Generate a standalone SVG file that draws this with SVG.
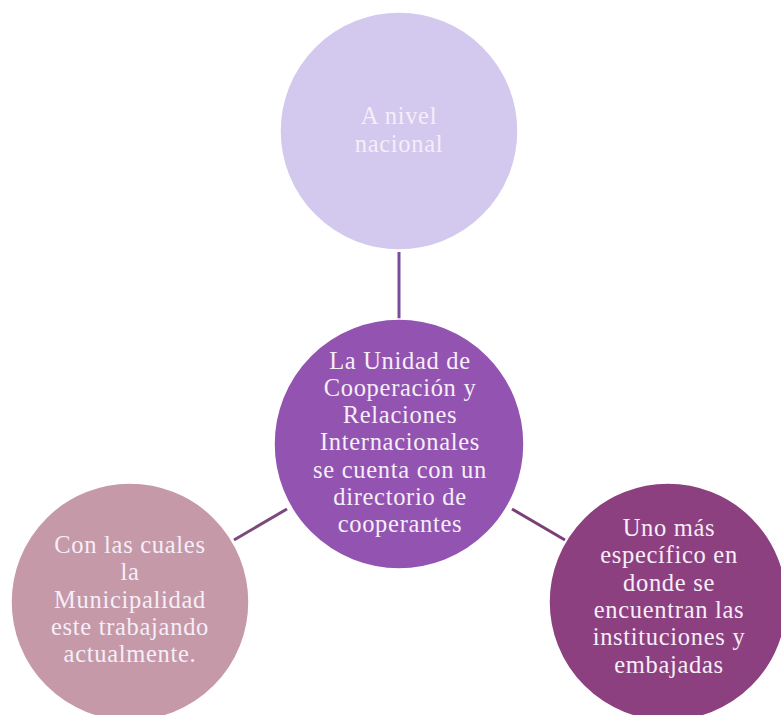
<svg xmlns="http://www.w3.org/2000/svg" width="781" height="715" viewBox="0 0 781 715">
<style>
  .node { stroke: #ffffff; stroke-width: 1.5; }
  .lbl { font-family: "Liberation Serif", "Times New Roman", serif; font-size: 24.5px; letter-spacing: 0.7px; fill: #F6EEF8; text-anchor: middle; }
  .conn { stroke-width: 3; fill: none; }
</style>
<rect width="781" height="715" fill="#ffffff"/>
<g id="connectors">
  <line class="conn" x1="399" y1="252" x2="399" y2="319" stroke="#7A4C9E"/>
  <line class="conn" x1="234" y1="540" x2="287" y2="509" stroke="#7B4A7C"/>
  <line class="conn" x1="512" y1="509" x2="565" y2="540" stroke="#7A3F76"/>
</g>
<g id="node-top">
  <circle class="node" cx="399" cy="131" r="119" fill="#D3C8EE"/>
  <text class="lbl" y="124"><tspan x="399">A nivel</tspan><tspan x="399" dy="27.6">nacional</tspan></text>
</g>
<g id="node-center">
  <circle class="node" cx="399" cy="444" r="125" fill="#9254B0"/>
  <text class="lbl" y="368.5"><tspan x="400">La Unidad de</tspan><tspan x="400" dy="27.3">Cooperación y</tspan><tspan x="400" dy="27.3">Relaciones</tspan><tspan x="400" dy="27.3">Internacionales</tspan><tspan x="400" dy="27.3">se cuenta con un</tspan><tspan x="400" dy="27.3">directorio de</tspan><tspan x="400" dy="27.3">cooperantes</tspan></text>
</g>
<g id="node-left">
  <circle class="node" cx="130" cy="602" r="119" fill="#C599A8"/>
  <text class="lbl" y="553"><tspan x="130">Con las cuales</tspan><tspan x="130" dy="27.3">la</tspan><tspan x="130" dy="27.3">Municipalidad</tspan><tspan x="130" dy="27.3">este trabajando</tspan><tspan x="130" dy="27.3">actualmente.</tspan></text>
</g>
<g id="node-right">
  <circle class="node" cx="668" cy="602" r="119" fill="#8D4080"/>
  <text class="lbl" y="536"><tspan x="669">Uno más</tspan><tspan x="669" dy="27.3">específico en</tspan><tspan x="669" dy="27.3">donde se</tspan><tspan x="669" dy="27.3">encuentran las</tspan><tspan x="669" dy="27.3">instituciones y</tspan><tspan x="669" dy="27.3">embajadas</tspan></text>
</g>
</svg>
